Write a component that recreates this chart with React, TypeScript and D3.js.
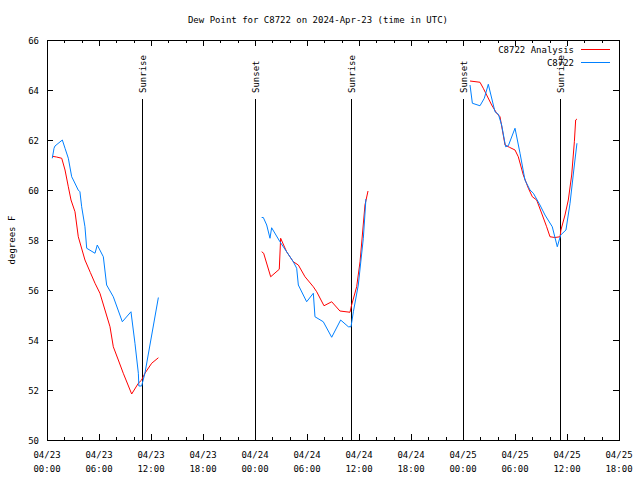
import { useRef, useEffect } from "react";
import * as d3 from "d3";

// hours since 2024-04-23 00:00 UTC, dew point (F)
const analysis1: [number, number][] = [
  [0.6, 61.35], [1.1, 61.32], [1.7, 61.27], [2.08, 60.8], [2.46, 60.13], [2.77, 59.6],
  [3.23, 59.13], [3.61, 58.13], [4.38, 57.2], [5.0, 56.7], [5.54, 56.27], [6.11, 55.87],
  [6.69, 55.2], [7.27, 54.53], [7.65, 53.73], [8.23, 53.2], [8.8, 52.67], [9.77, 51.84],
  [10.54, 52.27], [10.92, 52.4], [11.3, 52.67], [12.08, 53.07], [12.85, 53.29],
];
const analysis2: [number, number][] = [
  [24.77, 57.53], [25.0, 57.47], [25.81, 56.53], [26.8, 56.83], [26.96, 58.07], [27.65, 57.53],
  [28.42, 57.13], [29.0, 57.0], [29.77, 56.53], [30.73, 56.13], [31.12, 55.93], [31.96, 55.37],
  [32.85, 55.53], [33.8, 55.16], [34.96, 55.11], [35.15, 55.4], [35.73, 56.13], [36.12, 57.13],
  [36.69, 59.4], [37.04, 59.96],
];
const analysis3: [number, number][] = [
  [48.81, 64.36], [49.96, 64.31], [50.34, 64.07], [51.31, 63.4], [51.89, 63.07], [52.27, 62.93],
  [52.85, 61.8], [53.35, 61.71], [54.0, 61.6], [54.38, 61.33], [54.96, 60.6], [55.54, 60.07],
  [56.0, 59.73], [56.5, 59.6], [57.15, 59.0], [57.65, 58.53], [58.04, 58.13], [58.6, 58.1],
  [59.2, 58.13], [59.3, 58.4], [59.77, 59.0], [60.15, 59.6], [60.54, 60.6], [60.85, 61.93],
  [61.0, 62.8], [61.15, 62.84],
];
const station1: [number, number][] = [
  [0.61, 61.27], [0.81, 61.67], [0.92, 61.76], [1.77, 62.0], [2.08, 61.67], [2.46, 61.27],
  [2.85, 60.53], [3.04, 60.4], [3.6, 60.0], [3.8, 59.93], [4.0, 59.33], [4.38, 58.53],
  [4.58, 57.67], [5.54, 57.47], [5.8, 57.8], [6.5, 57.33], [6.88, 56.2], [7.65, 55.73],
  [8.69, 54.73], [9.69, 55.13], [10.15, 53.87], [10.54, 52.67], [10.6, 52.16], [10.92, 52.16],
  [11.3, 52.67], [12.85, 55.7],
];
const station2: [number, number][] = [
  [24.77, 58.9], [24.96, 58.9], [25.35, 58.6], [25.73, 58.07], [25.92, 58.49], [26.88, 57.93],
  [28.42, 57.13], [28.81, 56.87], [29.0, 56.2], [29.96, 55.53], [30.73, 55.87], [30.92, 54.93],
  [31.88, 54.73], [32.85, 54.11], [33.88, 54.8], [34.77, 54.53], [35.08, 54.53], [35.35, 55.13],
  [35.92, 56.2], [36.5, 58.07], [36.8, 59.64],
];
const station3: [number, number][] = [
  [48.81, 64.2], [49.08, 63.47], [49.96, 63.37], [50.46, 63.67], [50.92, 64.23], [51.69, 63.13],
  [52.08, 63.03], [52.46, 62.6], [52.92, 61.73], [53.23, 61.77], [54.0, 62.47], [54.58, 61.47],
  [55.15, 60.4], [55.73, 60.0], [56.12, 59.87], [56.88, 59.4], [57.46, 59.0], [58.3, 58.53],
  [58.88, 57.73], [59.27, 58.2], [59.88, 58.4], [60.35, 59.47], [60.85, 61.0], [61.15, 61.87],
];
const sunEvents: [number, string][] = [
  [11.0, "Sunrise"], [23.95, "Sunset"], [35.1, "Sunrise"], [47.97, "Sunset"], [59.15, "Sunrise"],
];
const yTicks = [50, 52, 54, 56, 58, 60, 62, 64, 66];

const start = Date.UTC(2024, 3, 23, 0, 0);
const toDate = (h: number) => new Date(start + h * 3600 * 1000);

export default function App() {
  const svgRef = useRef<SVGSVGElement>(null);

  useEffect(() => {
    if (!svgRef.current) return;
    const svg = d3.select(svgRef.current);
    svg.selectAll("*").remove();

    const width = 640;
    const height = 480;
    const left = 47, right = 619, top = 40, bottom = 440;
    const font = "DejaVu Sans Mono, monospace";
    const fs = 9;

    svg.append("rect").attr("width", width).attr("height", height).attr("fill", "#fff");

    const x = d3.scaleUtc().domain([toDate(0), toDate(66)]).range([left, right]);
    const y = d3.scaleLinear().domain([50, 66]).range([bottom, top]);

    // x ticks: major every 6h, minor every 2h, on bottom and top
    const minor = d3.range(0, 67, 2).filter((h) => h % 6 !== 0);
    const major = d3.range(0, 67, 6);
    const tk = svg.append("g").attr("stroke", "#000").attr("stroke-width", 1).attr("shape-rendering", "crispEdges");
    minor.forEach((h) => {
      const px = Math.round(x(toDate(h))) + 0.5;
      tk.append("line").attr("x1", px).attr("x2", px).attr("y1", bottom).attr("y2", bottom - 3);
      tk.append("line").attr("x1", px).attr("x2", px).attr("y1", top).attr("y2", top + 3);
    });
    major.forEach((h) => {
      const px = Math.round(x(toDate(h))) + 0.5;
      tk.append("line").attr("x1", px).attr("x2", px).attr("y1", bottom).attr("y2", bottom - 6);
      tk.append("line").attr("x1", px).attr("x2", px).attr("y1", top).attr("y2", top + 6);
    });
    yTicks.forEach((v) => {
      const py = Math.round(y(v)) + 0.5;
      tk.append("line").attr("x1", left).attr("x2", left + 6).attr("y1", py).attr("y2", py);
      tk.append("line").attr("x1", right).attr("x2", right - 6).attr("y1", py).attr("y2", py);
    });

    const fmtD = d3.utcFormat("%m/%d");
    const fmtT = d3.utcFormat("%H:%M");
    const lbl = svg.append("g").attr("font-family", font).attr("font-size", fs).attr("fill", "#000");
    major.forEach((h) => {
      const d = toDate(h);
      const px = x(d);
      lbl.append("text").attr("x", px).attr("y", 458).attr("text-anchor", "middle").text(fmtD(d));
      lbl.append("text").attr("x", px).attr("y", 472).attr("text-anchor", "middle").text(fmtT(d));
    });
    yTicks.forEach((v) => {
      lbl.append("text").attr("x", 39).attr("y", y(v) + 4).attr("text-anchor", "end").text(String(v));
    });

    // sunrise / sunset markers
    sunEvents.forEach(([h, name]) => {
      const px = Math.round(x(toDate(h))) + 0.5;
      svg.append("line").attr("x1", px).attr("x2", px).attr("y1", 99).attr("y2", bottom)
        .attr("stroke", "#000").attr("stroke-width", 1).attr("shape-rendering", "crispEdges");
      svg.append("text")
        .attr("transform", `translate(${px + 3.5},93) rotate(-90)`)
        .attr("font-family", font).attr("font-size", fs).attr("fill", "#000")
        .attr("text-anchor", "start")
        .text(name);
    });

    const line = d3.line<[number, number]>()
      .x((d) => x(toDate(d[0])))
      .y((d) => y(d[1]));

    [analysis1, analysis2, analysis3].forEach((s) => {
      svg.append("path").datum(s).attr("d", line).attr("fill", "none")
        .attr("stroke", "#ff0000").attr("stroke-width", 1);
    });
    [station1, station2, station3].forEach((s) => {
      svg.append("path").datum(s).attr("d", line).attr("fill", "none")
        .attr("stroke", "#0080ff").attr("stroke-width", 1);
    });

    // border
    svg.append("rect").attr("x", left + 0.5).attr("y", top + 0.5)
      .attr("width", right - left).attr("height", bottom - top)
      .attr("fill", "none").attr("stroke", "#000").attr("stroke-width", 1)
      .attr("shape-rendering", "crispEdges");

    // legend
    const legend = [["C8722 Analysis", "#ff0000"], ["C8722", "#0080ff"]];
    legend.forEach(([name, color], i) => {
      const ly = 49 + i * 13;
      svg.append("text").attr("x", 574).attr("y", ly + 3.5).attr("text-anchor", "end")
        .attr("font-family", font).attr("font-size", fs).attr("fill", "#000").text(name);
      svg.append("line").attr("x1", 581).attr("x2", 610).attr("y1", ly + 0.5).attr("y2", ly + 0.5)
        .attr("stroke", color).attr("stroke-width", 1);
    });

    // titles
    svg.append("text").attr("x", 318).attr("y", 23).attr("text-anchor", "middle")
      .attr("font-family", font).attr("font-size", fs).attr("fill", "#000")
      .text("Dew Point for C8722 on 2024-Apr-23 (time in UTC)");
    svg.append("text").attr("transform", `translate(15,${(top + bottom) / 2}) rotate(-90)`)
      .attr("text-anchor", "middle")
      .attr("font-family", font).attr("font-size", fs).attr("fill", "#000")
      .text("degrees F");
  }, []);

  return (
    <svg
      ref={svgRef}
      width={640}
      height={480}
      style={{ position: "absolute", left: 0, top: 0 }}
    />
  );
}
